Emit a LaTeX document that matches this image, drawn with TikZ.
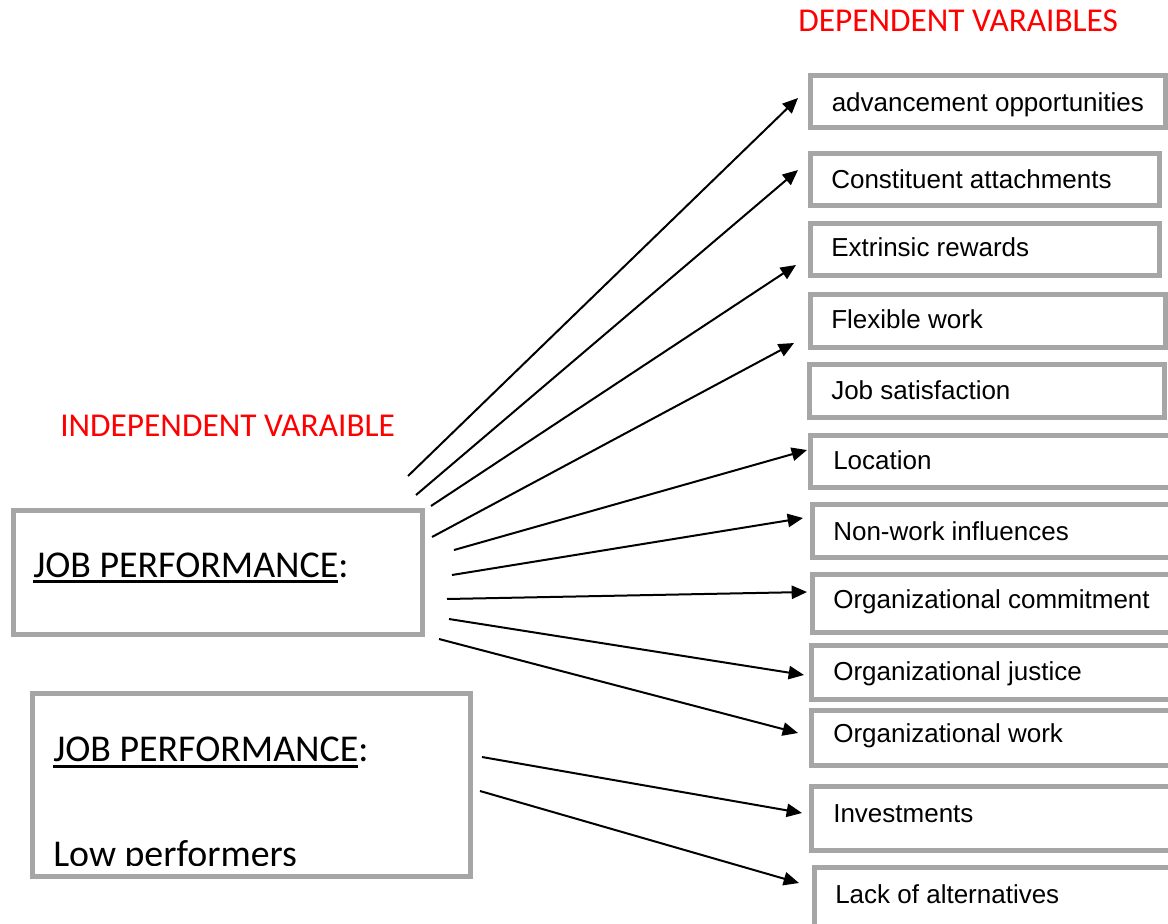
\documentclass[tikz,border=0pt]{standalone}
\usepackage{fontspec}
\setmainfont{Carlito}
\newfontfamily\arialf{Liberation Sans}
\usetikzlibrary{arrows.meta}
\definecolor{boxgray}{HTML}{A6A6A6}
\definecolor{titlered}{HTML}{FF0000}
\newcommand\myul[1]{\setbox0\hbox{#1}\rlap{\rule[-4.5pt]{\wd0}{2.2pt}}\box0}
\begin{document}
\begin{tikzpicture}[x=0.75pt,y=-0.75pt,
  box/.style={draw=boxgray, line width=3.75pt, fill=white, rectangle, inner sep=0pt, outer sep=0pt, anchor=north west},
  lbl/.style={font=\arialf\fontsize{19.5}{23}\selectfont, inner sep=0pt, anchor=base west, text=black},
  title/.style={font=\fontsize{25}{30}\selectfont, text=titlered, inner sep=0pt, anchor=base west},
  big/.style={font=\fontsize{28.4}{34}\selectfont, inner sep=0pt, anchor=base west},
  arr/.style={line width=1.5pt, -{Triangle[length=11.5pt,width=10pt]}}]
\clip (0,0) rectangle (1168,924);
\fill[white] (0,0) rectangle (1168,924);

% titles
\node[title] (dep) at (798,32) {DEPENDENT VARAIBLES};
\node[title] (indep) at (60,436) {INDEPENDENT VARAIBLE};

% dependent boxes
\node[box, minimum width=266.25pt, minimum height=39pt]   (b1)  at (810.5,75.5) {};
\node[box, minimum width=261.4pt,  minimum height=39.4pt] (b2)  at (810.5,153) {};
\node[box, minimum width=261.4pt,  minimum height=39.4pt] (b3)  at (810.5,223) {};
\node[box, minimum width=266.25pt, minimum height=39.75pt] (b4) at (810.5,294.5) {};
\node[box, minimum width=266.6pt,  minimum height=39.75pt] (b5) at (809.5,364.5) {};
\node[box, minimum width=280.9pt,  minimum height=39pt]   (b6)  at (810.5,435.5) {};
\node[box, minimum width=279.4pt,  minimum height=39.75pt] (b7) at (812.5,504.5) {};
\node[box, minimum width=279.4pt,  minimum height=43.5pt] (b8)  at (812.5,574.5) {};
\node[box, minimum width=280.1pt,  minimum height=40.5pt] (b9)  at (811.5,645.5) {};
\node[box, minimum width=280.1pt,  minimum height=41.25pt] (b10) at (811.5,710.5) {};
\node[box, minimum width=280.1pt,  minimum height=48pt]   (b11) at (811.5,786.5) {};
\node[box, minimum width=277.9pt,  minimum height=58.1pt] (b12) at (814.5,867.5) {};

\node[lbl] (t1)  at (831.5,111.7) {advancement opportunities};
\node[lbl] (t2)  at (831,188.3) {Constituent attachments};
\node[lbl] (t3)  at (831,256.7) {Extrinsic rewards};
\node[lbl] (t4)  at (831,328.3) {Flexible work};
\node[lbl] (t5)  at (831,399.3) {Job satisfaction};
\node[lbl] (t6)  at (833,469.3) {Location};
\node[lbl] (t7)  at (833,540) {Non-work influences};
\node[lbl] (t8)  at (833,608.3) {Organizational commitment};
\node[lbl] (t9)  at (833,680) {Organizational justice};
\node[lbl] (t10) at (833,742) {Organizational work};
\node[lbl] (t11) at (833,822.7) {Investments};
\node[lbl] (t12) at (835,903.3) {Lack of alternatives};

% independent boxes
\node[box, minimum width=306.75pt, minimum height=93pt] (ja) at (13.5,510.5) {};
\node[big] (jat) at (33,577) {\myul{JOB PERFORMANCE}:};
\node[box, minimum width=328.5pt, minimum height=137.25pt] (jb) at (32.5,693.5) {};
\node[big] (jbt) at (53,761.7) {\myul{JOB PERFORMANCE}:};
\begin{scope}
\clip (36,697) rectangle (467,865.5);
\node[big] (jbl) at (53,866) {Low performers};
\end{scope}

% arrow end points
\coordinate (s1) at (408,476);  \coordinate (e1) at (798,98);
\coordinate (s2) at (416,495);  \coordinate (e2) at (798,170);
\coordinate (s3) at (431,506);  \coordinate (e3) at (796,265);
\coordinate (s4) at (432,537);  \coordinate (e4) at (794,343);
\coordinate (s5) at (454,550);  \coordinate (e5) at (807,450);
\coordinate (s6) at (452,575);  \coordinate (e6) at (803,518);
\coordinate (s7) at (447,599);  \coordinate (e7) at (807,592);
\coordinate (s8) at (449,619);  \coordinate (e8) at (804,675);
\coordinate (s9) at (439,639);  \coordinate (e9) at (798,733);
\coordinate (s10) at (482,757); \coordinate (e10) at (802,813);
\coordinate (s11) at (480,791); \coordinate (e11) at (799,883);

\foreach \i in {1,...,11} \draw[arr] (s\i) -- (e\i);
\end{tikzpicture}
\end{document}
